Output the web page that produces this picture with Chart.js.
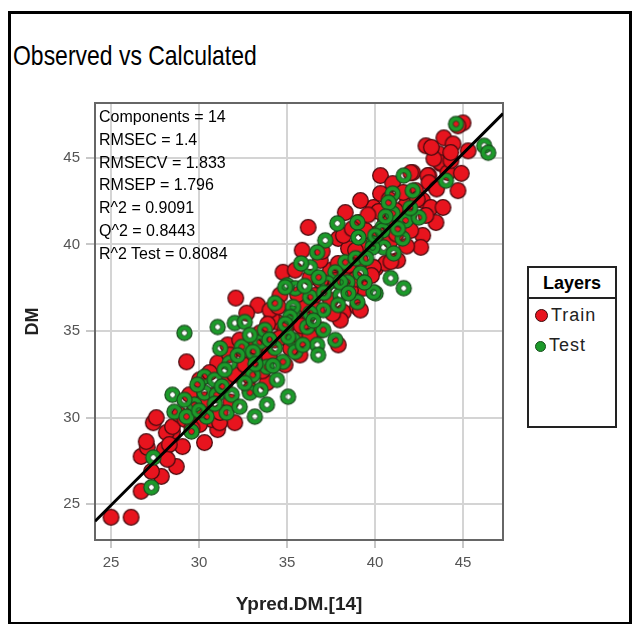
<!DOCTYPE html>
<html>
<head>
<meta charset="utf-8">
<script src="https://cdn.jsdelivr.net/npm/chart.js@4.4.1/dist/chart.umd.min.js"></script>
<style>
body{margin:0;background:#fff;width:641px;height:624px;overflow:hidden;position:relative;font-family:"Liberation Sans",Arial,sans-serif}
#frame{position:absolute;left:8px;top:11px;width:624px;height:614px;border:3px solid #000;box-sizing:border-box}
#title{position:absolute;left:13px;top:40px;font-size:28px;color:#000;white-space:nowrap;transform:scaleX(0.82);transform-origin:0 0}
#stats{position:absolute;left:99px;top:106px;font-size:16px;line-height:22.8px;color:#000;white-space:nowrap;z-index:3}
#legend{position:absolute;left:527px;top:266px;width:90px;height:162px;border:2px solid #222;box-sizing:border-box;background:#fff}
#legend .head{font-weight:bold;font-size:18px;text-align:center;height:29px;line-height:31px;border-bottom:2px solid #222}
#legend .item{font-size:18px;letter-spacing:1px;color:#222;height:28px;line-height:28px;padding-left:6px;margin-top:2px}
#legend .dot{display:inline-block;width:11px;height:11px;border-radius:50%;vertical-align:-1px;margin-right:3px}
#wrap{position:absolute;left:0;top:0;width:641px;height:624px;z-index:2}
</style>
</head>
<body>
<div id="frame"></div>
<div id="title">Observed vs Calculated</div>
<div id="legend">
  <div class="head">Layers</div>
  <div class="item"><span class="dot" style="background:#e8141e;border:1.5px solid #3a0a0a"></span>Train</div>
  <div class="item"><span class="dot" style="background:#1c9a2a;border:1.5px solid #174d1c;width:9px;height:9px"></span>Test</div>
</div>
<div id="stats"></div>
<div id="wrap"><canvas id="chart" width="641" height="624"></canvas></div>
<script>
// values
var statLines = ["Components = 14", "RMSEC = 1.4", "RMSECV = 1.833", "RMSEP = 1.796",
                 "R^2 = 0.9091", "Q^2 = 0.8443", "R^2 Test = 0.8084"];
var xTicks = [25, 30, 35, 40, 45];
var yTicks = [25, 30, 35, 40, 45];
var fitX = [24.09, 47.27];
var fitY = [24.02, 47.55];

var trainX = [25.0,26.14,26.71,27.86,28.71,26.71,27.06,27.0,27.4,28.49,28.14,29.06,30.31,31.06,30.71,27.57,30.6,32.03,31.17,28.49,
  32.09,33.34,32.71,31.63,29.29,31.06,30.03,34.43,35.17,33.46,32.89,33.86,38.31,36.2,39.91,37.91,35.86,38.49,34.77,37.46,
  40.03,40.6,36.31,39.34,34.14,38.2,39.0,36.14,33.46,37.91,35.74,40.31,42.14,43.06,43.74,41.0,44.71,40.31,42.71,43.17,
  43.86,43.46,42.71,42.6,40.14,39.91,41.29,39.06,39.74,38.2,45.0,44.71,42.89,43.91,44.43,45.29,43.63,43.74,43.34,43.0,
  42.03,44.14,43.06,29.74,30.31,30.89,31.46,32.03,32.6,33.17,33.74,34.31,34.89,35.46,36.03,36.6,37.17,37.74,36.89,35.46,
  37.46,38.6,39.17,39.46,40.89,41.46,41.74,41.17,42.31,44.31,32.31,31.74,34.03,34.6,29.46,28.89,30.03,28.03,28.31,32.89,
  34.89,35.74,36.89,38.03,39.17,38.31,38.89,39.46,40.6,42.03,42.89,39.17,
  31.8,30.6,29.2,31.2,33.2,34.0,34.6,35.2,33.9,35.8,36.3,36.9,37.9,38.9,36.7,37.6,38.5,35.6,40.2,41.2,
  40.9,39.6,41.9,38.7,40.8,43.5,44.3,42.4,41.6,43.2,44.9,27.3,28.2,29.6,32.5,33.6,34.5,37.0,39.8,41.8];
var trainY = [24.25,24.25,25.75,26.61,27.18,27.76,28.28,28.62,29.71,29.2,29.14,28.33,28.56,29.31,29.89,30.0,30.29,29.71,29.71,29.48,
  36.9,36.49,36.03,34.2,33.22,33.16,32.18,35.52,35.46,33.16,32.36,32.01,41.84,40.98,42.13,40.34,39.66,39.77,38.39,38.51,
  38.62,38.91,38.1,37.47,35.75,36.09,36.38,35.8,34.89,34.2,34.48,43.97,44.14,43.97,44.66,43.51,43.1,42.93,42.53,42.13,
  42.13,41.26,40.52,39.83,40.63,38.68,39.08,41.26,40.06,40.52,47.01,46.84,45.69,46.15,45.8,45.4,45.23,44.71,44.94,43.97,
  44.14,44.14,43.56,30.46,31.03,31.32,31.9,32.47,33.05,33.62,34.2,34.48,35.06,35.63,36.49,37.07,37.64,37.93,39.08,38.51,
  36.78,37.36,39.08,39.94,40.23,41.09,42.24,41.95,43.1,44.83,34.48,33.62,36.21,37.07,31.32,30.17,29.6,28.16,28.45,31.61,
  33.05,33.62,35.06,35.63,36.21,38.51,39.66,40.8,41.38,40.8,41.67,42.53,
  30.9,32.6,29.9,30.3,34.1,33.5,34.6,34.0,35.4,35.3,34.7,37.9,38.9,38.0,36.2,36.0,38.8,37.1,41.9,40.6,
  39.0,41.7,41.6,40.9,42.6,43.2,45.3,42.6,43.0,45.6,44.1,26.9,27.6,29.4,33.9,32.7,36.4,39.6,38.2,39.9];

var testX = [27.4,27.29,28.49,28.6,29.74,29.57,31.57,30.31,29.17,35.0,35.46,34.31,35.29,31.06,32.03,29.17,32.6,32.43,33.46,34.31,
  35.34,31.74,33.06,33.86,34.77,35.46,30.31,34.43,33.06,31.86,31.0,32.31,32.89,33.86,35.06,33.17,29.29,30.43,37.86,39.0,
  41.0,40.43,37.17,36.71,39.06,39.91,40.49,41.06,38.31,36.31,37.74,39.17,38.43,34.89,37.29,36.31,38.03,40.03,40.89,39.0,
  35.34,37.06,36.31,35.17,36.14,37.06,37.74,35.06,36.71,41.63,42.14,44.03,41.0,40.77,41.74,42.49,41.57,40.43,39.86,39.91,
  41.63,38.03,38.49,44.6,46.2,46.43,30.89,31.46,33.74,32.89,36.77,
  29.9,30.9,31.3,32.6,30.0,34.0,34.9,33.2,35.9,36.5,32.2,31.2,36.0,37.1,37.9,38.9,36.8,35.8,39.4,40.0,
  41.3,39.5,40.6,42.0,34.2,33.5];
var testY = [27.7,25.98,31.32,30.34,30.75,29.2,30.29,31.44,31.03,37.64,37.47,36.61,36.03,35.23,35.46,34.89,35.52,34.08,34.37,34.02,
  34.48,33.16,33.79,32.93,33.22,33.79,32.36,32.18,32.47,31.32,31.32,30.63,31.44,30.75,31.21,30.06,30.06,30.06,41.21,41.26,
  41.78,40.98,40.23,39.54,40.4,40.06,39.83,39.48,38.97,38.68,38.39,38.33,37.82,37.53,37.76,36.95,37.07,37.18,38.05,36.67,
  36.38,36.21,36.03,35.8,35.23,35.06,34.48,34.66,34.2,43.97,43.1,43.68,42.93,42.41,41.38,41.55,40.34,40.8,39.83,37.24,
  37.47,37.82,37.18,46.95,45.69,45.29,32.18,32.76,35.06,34.77,33.62,
  31.9,30.8,31.8,32.0,30.4,34.5,35.4,33.1,34.2,35.6,33.6,34.0,37.6,37.2,36.5,39.2,38.1,38.9,37.8,40.5,
  40.9,39.2,41.6,42.1,33.0,31.6];

document.getElementById('stats').innerHTML = statLines.join('<br>');

function toPoints(xs, ys){
  var out = [];
  for (var i = 0; i < xs.length; i++) out.push({x: xs[i], y: ys[i]});
  return out;
}

function redDot(){
  var c = document.createElement('canvas'); c.width = c.height = 19;
  var g = c.getContext('2d');
  g.beginPath(); g.arc(9.5, 9.5, 7.8, 0, Math.PI*2);
  g.fillStyle = '#e8141e'; g.fill();
  g.lineWidth = 1.3; g.strokeStyle = '#4a0c10'; g.stroke();
  return c;
}
function greenRing(){
  var c = document.createElement('canvas'); c.width = c.height = 19;
  var g = c.getContext('2d');
  g.beginPath(); g.arc(9.5, 9.5, 7.6, 0, Math.PI*2);
  g.fillStyle = '#1c9a2a'; g.fill();
  g.globalCompositeOperation = 'destination-out';
  g.beginPath(); g.arc(9.5, 9.5, 2.9, 0, Math.PI*2); g.fill();
  g.globalCompositeOperation = 'source-over';
  g.lineWidth = 1.2; g.strokeStyle = '#1a4a1e';
  g.beginPath(); g.arc(9.5, 9.5, 7.6, 0, Math.PI*2); g.stroke();
  g.lineWidth = 1; g.beginPath(); g.arc(9.5, 9.5, 2.9, 0, Math.PI*2); g.stroke();
  return c;
}

var plotBorder = {
  id: 'plotBorder',
  beforeDatasetsDraw: function(chart){
    var a = chart.chartArea, ctx = chart.ctx;
    ctx.save();
    ctx.strokeStyle = '#666'; ctx.lineWidth = 2;
    ctx.strokeRect(a.left, a.top, a.right - a.left, a.bottom - a.top);
    ctx.restore();
  }
};

var chart = new Chart(document.getElementById('chart').getContext('2d'), {
  type: 'scatter',
  data: {
    datasets: [
      {label: 'fit', type: 'line', data: toPoints(fitX, fitY), borderColor: '#000', borderWidth: 3,
       pointRadius: 0, fill: false, order: 0},
      {label: 'Test', data: toPoints(testX, testY), pointStyle: greenRing(), order: 1},
      {label: 'Train', data: toPoints(trainX, trainY), pointStyle: redDot(), order: 2}
    ]
  },
  options: {
    responsive: false,
    animation: false,
    events: [],
    layout: {padding: {left: 0, top: 103, right: 138, bottom: 0}},
    plugins: {legend: {display: false}, tooltip: {enabled: false}},
    scales: {
      x: {
        type: 'linear', min: 24.09, max: 47.27,
        afterBuildTicks: function(s){ s.ticks = xTicks.map(function(v){ return {value: v}; }); },
        afterFit: function(s){ s.height = 84; },
        grid: {color: '#d4d4d4', lineWidth: 2, tickLength: 8, tickColor: '#c8c8c8'},
        border: {display: false},
        ticks: {color: '#555', font: {size: 15, family: 'Liberation Sans'}, padding: 6},
        title: {display: true, text: 'Ypred.DM.[14]', color: '#222',
                font: {size: 19, weight: 'bold', family: 'Liberation Sans'}, padding: {top: 0, bottom: 8}}
      },
      y: {
        type: 'linear', min: 22.94, max: 48.16,
        afterBuildTicks: function(s){ s.ticks = yTicks.map(function(v){ return {value: v}; }); },
        afterFit: function(s){ s.width = 95; },
        grid: {color: '#d4d4d4', lineWidth: 2, tickLength: 9, tickColor: '#c8c8c8'},
        border: {display: false},
        ticks: {color: '#555', font: {size: 15, family: 'Liberation Sans'}, padding: 6},
        title: {display: true, text: 'DM', color: '#222',
                font: {size: 18, weight: 'bold', family: 'Liberation Sans'}, padding: {top: 22, bottom: 0}}
      }
    }
  },
  plugins: [plotBorder]
});
</script>
</body>
</html>
